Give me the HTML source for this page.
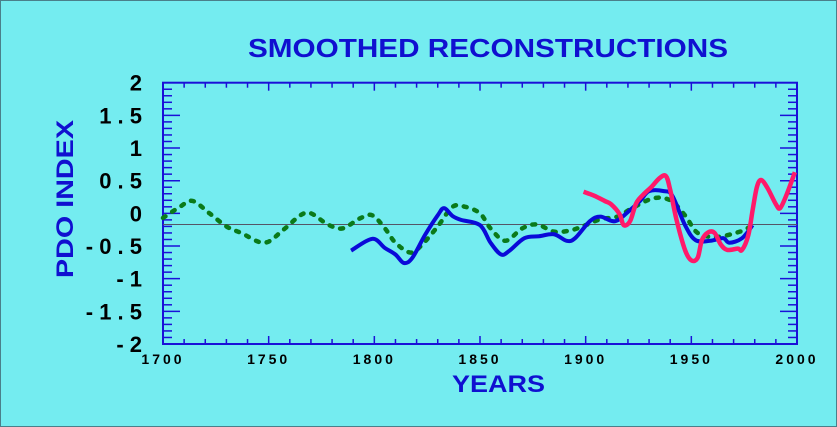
<!DOCTYPE html>
<html><head><meta charset="utf-8"><style>
html,body{margin:0;padding:0;background:#74ecf0;}
svg{display:block;}
text{font-family:"Liberation Sans",sans-serif;font-weight:bold;}
</style></head><body>
<svg id="chart" width="837" height="427">
<rect x="0.5" y="0.5" width="836" height="426" fill="#74ecf0" stroke="#4a7f8a"/>
<text x="248" y="57" font-size="26" fill="#1010d0" textLength="480" lengthAdjust="spacingAndGlyphs">SMOOTHED RECONSTRUCTIONS</text>
<text x="452" y="392" font-size="24" fill="#1010d0" textLength="93" lengthAdjust="spacingAndGlyphs">YEARS</text>
<text transform="translate(73,278) rotate(-90)" font-size="24" fill="#1010d0" textLength="158" lengthAdjust="spacingAndGlyphs">PDO INDEX</text>
<g id="axes"></g>
<g id="series"></g>
</svg>
<script>
const xTicks=[1700,1750,1800,1850,1900,1950,2000];
const yTicks=[2,1.5,1,0.5,0,-0.5,-1,-1.5,-2];
const yTickLabels=["2","1 . 5","1","0 . 5","0","- 0 . 5","- 1","- 1 . 5","- 2"];
const refLine=-0.17;
const greenYears=[1700,1708,1714,1722,1730,1737,1748,1757,1765,1770,1778,1785,1793,1799,1805,1810,1817,1822,1830,1837,1843,1850,1855,1862,1870,1877,1885,1893,1900,1907,1915,1922,1932,1940,1947,1953,1962,1973,1978];
const greenValues=[-0.07,0.1,0.19,0.0,-0.2,-0.3,-0.45,-0.25,-0.03,0.0,-0.17,-0.23,-0.08,-0.03,-0.23,-0.45,-0.6,-0.5,-0.2,0.1,0.1,0.0,-0.23,-0.42,-0.23,-0.17,-0.28,-0.26,-0.18,-0.09,-0.05,0.08,0.23,0.2,-0.03,-0.3,-0.36,-0.28,-0.2];
const blueYears=[1789,1799,1805,1810,1814,1818,1824,1830,1833,1837,1841,1850,1855,1860,1864,1871,1878,1885,1891,1895,1902,1907,1914,1921,1926,1930,1937,1941,1947,1952,1959,1965,1968,1974,1979];
const blueValues=[-0.57,-0.39,-0.53,-0.63,-0.76,-0.68,-0.33,-0.03,0.08,-0.04,-0.1,-0.18,-0.45,-0.63,-0.57,-0.38,-0.35,-0.32,-0.42,-0.38,-0.12,-0.05,-0.12,0.05,0.2,0.34,0.34,0.27,-0.18,-0.41,-0.42,-0.38,-0.45,-0.38,-0.18];
const pinkYears=[1899,1904,1909,1912,1916,1918,1921,1924,1928,1931,1935,1938,1940,1943,1947,1950,1953,1955,1958,1961,1964,1967,1972,1974,1977,1979,1981,1983,1986,1990,1992,1995,1999];
const pinkValues=[0.33,0.27,0.19,0.14,-0.01,-0.18,-0.12,0.16,0.31,0.4,0.54,0.57,0.36,-0.1,-0.56,-0.72,-0.68,-0.41,-0.29,-0.3,-0.48,-0.56,-0.54,-0.56,-0.33,0.05,0.4,0.51,0.39,0.14,0.08,0.28,0.63];

const X0=163,X1=797,Y0=344,Y1=82.7;
function xs(yr){return X0+(yr-1700)*(X1-X0)/300;}
function ys(v){return Y0-(v+2)*(Y0-Y1)/4;}
const NS="http://www.w3.org/2000/svg";
function mk(tag,attrs,parent){const e=document.createElementNS(NS,tag);for(const k in attrs)e.setAttribute(k,attrs[k]);parent.appendChild(e);return e;}
const axes=document.getElementById('axes'),series=document.getElementById('series');
const B="#1a10d8";
const fr=mk('rect',{x:X0,y:Y1,width:X1-X0,height:Y0-Y1,fill:'none',stroke:B,'stroke-width':2},axes);


for(let i=0;i<=40;i++){
  const v=-2+i*0.1, y=ys(v), major=(i%5===0), len=major?17:9;
  mk('line',{x1:X0,y1:y,x2:X0+len,y2:y,stroke:B,'stroke-width':1.5},axes);
  mk('line',{x1:X1,y1:y,x2:X1-len,y2:y,stroke:B,'stroke-width':1.5},axes);
}
for(let yr=1700;yr<=2000;yr+=10){
  const x=xs(yr), len=(yr%50===0)?8:5;
  mk('line',{x1:x,y1:Y1,x2:x,y2:Y1+len,stroke:B,'stroke-width':1.5},axes);
  mk('line',{x1:x,y1:Y0,x2:x,y2:Y0-len,stroke:B,'stroke-width':1.5},axes);
}
yTicks.forEach((v,i)=>{
  const t=mk('text',{x:142,y:ys(v)+8,'font-size':22,fill:'#000','text-anchor':'end'},axes);
  t.textContent=yTickLabels[i];
  
  
});
xTicks.forEach(yr=>{
  const t=mk('text',{x:xs(yr),y:364,'font-size':14,fill:'#000','text-anchor':'middle','letter-spacing':'3'},axes);
  t.textContent=String(yr);
  
  
});
const rl=mk('line',{x1:X0,y1:ys(refLine),x2:X1,y2:ys(refLine),stroke:'#556','stroke-width':1},axes);


function smooth(yrs,vals){
  const p=yrs.map((y,i)=>[xs(y),ys(vals[i])]);
  let d='M'+p[0][0]+','+p[0][1];
  for(let i=0;i<p.length-1;i++){
    const p0=p[i-1]||p[i],p1=p[i],p2=p[i+1],p3=p[i+2]||p2;
    const c1=[p1[0]+(p2[0]-p0[0])/6,p1[1]+(p2[1]-p0[1])/6];
    const c2=[p2[0]-(p3[0]-p1[0])/6,p2[1]-(p3[1]-p1[1])/6];
    d+=' C'+c1.join(',')+' '+c2.join(',')+' '+p2.join(',');
  }
  return d;
}
const g=mk('path',{d:smooth(greenYears,greenValues),fill:'none',stroke:'#0a7a1a','stroke-width':4.5,'stroke-dasharray':'3 8','stroke-linecap':'round'},series);


const b=mk('path',{d:smooth(blueYears,blueValues),fill:'none',stroke:'#0a0ad8','stroke-width':4,'stroke-linejoin':'round'},series);


const p=mk('path',{d:smooth(pinkYears,pinkValues),fill:'none',stroke:'#ff1a6a','stroke-width':4.5,'stroke-linejoin':'round'},series);


</script>
</body></html>
